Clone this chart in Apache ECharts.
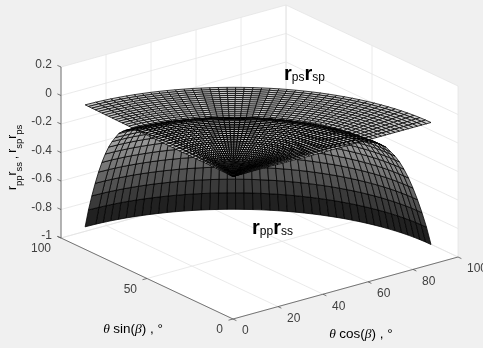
<!DOCTYPE html>
<html><head><meta charset="utf-8">
<style>html,body{margin:0;padding:0;background:#f0f0f0}#c{width:483px;height:348px}</style>
<script src="https://cdn.jsdelivr.net/npm/echarts@6/dist/echarts.min.js"></script>
</head><body><div id="c"></div>
<script>
// ---- values ----
const thetaDeg = [0,2,4,6,8,10,12,14,16,18,20,22,24,26,28,30,32,34,36,38,40,42,44,46,48,50,52,54,56,58,60,62,64,66,68,70,72,74,76,78,80,82,84,86,88];
const betaDeg = [0,2,4,6,8,10,12,14,16,18,20,22,24,26,28,30,32,34,36,38,40,42,44,46,48,50,52,54,56,58,60,62,64,66,68,70,72,74,76,78,80,82,84,86,89];
const lowerZ = [0.02,0.02,0.02,0.02,0.02,0.02,0.02,0.02,0.02,0.02,0.02,0.02,0.02,0.02,0.02,0.02,0.018,0.018,0.018,0.016,0.016,0.015,0.014,0.012,0.01,0.008,0.006,0.004,0,-0.008,-0.018,-0.03,-0.045,-0.065,-0.09,-0.13,-0.17,-0.22,-0.28,-0.35,-0.43,-0.52,-0.62,-0.73,-0.86];
const upperZ = [0,0,0,0,0,0,0,0,0,0,-0.002,-0.002,-0.002,-0.002,-0.002,-0.004,-0.004,-0.004,-0.004,-0.004,-0.004,-0.004,-0.004,-0.004,-0.004,-0.004,-0.004,-0.004,-0.004,-0.004,-0.004,-0.004,-0.004,-0.004,-0.004,-0.004,-0.004,-0.004,-0.004,-0.004,-0.004,-0.004,-0.004,-0.004,-0.004];
const xTicks = [0,20,40,60,80,100];
const yTicks = [0,50,100];
const zTicks = [-1,-0.8,-0.6,-0.4,-0.2,0,0.2];
const zTickLabels = ['-1','-0.8','-0.6','-0.4','-0.2','0','0.2'];
const crossLayer = 64; // theta where the two surfaces cross
const colorLow = -0.95, colorHigh = 0.25;

// ---- view of the 3-D box ----
const view = {ox:233, oy:319, xu:2.25, xv:-0.62, yu:-1.72, yv:-0.81, zv:-142.5, zBase:-1};
function project(x,y,z){
  return [view.ox + view.xu*x + view.yu*y, view.oy + view.xv*x + view.yv*y + view.zv*(z-view.zBase)];
}
function depth(x,y,z){ return 1.72*x + 2.25*y - 141*z; }
const deg = Math.PI/180;
function world(table,i,j){ const t=thetaDeg[i], b=betaDeg[j]*deg; return [t*Math.cos(b), t*Math.sin(b), table[i]]; }
function gray(z){ const g=Math.max(0,Math.min(1,(z-colorLow)/(colorHigh-colorLow))); const v=Math.round(g*255); return 'rgb('+v+','+v+','+v+')'; }

function cells(table,from,to){
  const out=[];
  for(let i=from;i<to;i++) for(let j=0;j<betaDeg.length-1;j++){
    const a=world(table,i,j), c=world(table,i+1,j+1);
    out.push({i,j,d:depth((a[0]+c[0])/2,(a[1]+c[1])/2,(a[2]+c[2])/2)});
  }
  out.sort((p,q)=>q.d-p.d);
  return out;
}
const crossIdx = thetaDeg.indexOf(crossLayer);
const tables=[lowerZ,upperZ];
const meshData=[];
cells(lowerZ,crossIdx,thetaDeg.length-1).forEach(c=>meshData.push([0,c.i,c.j,0]));
cells(upperZ,0,thetaDeg.length-1).forEach(c=>meshData.push([1,c.i,c.j,1]));
cells(lowerZ,0,crossIdx).forEach(c=>meshData.push([0,c.i,c.j,2]));
const layerStroke=[0.75,0.75,1.0];

function renderMesh(params,api){
  const t=tables[api.value(0)], i=api.value(1), j=api.value(2), layer=api.value(3);
  const corners=[world(t,i,j),world(t,i+1,j),world(t,i+1,j+1),world(t,i,j+1)];
  const pts=corners.map(w=>api.coord(project(w[0],w[1],w[2])));
  return {type:'polygon',shape:{points:pts},style:{fill:gray((t[i]+t[i+1])/2),stroke:'#000',lineWidth:layerStroke[layer]},silent:true};
}

// box faces
const xMax=xTicks[xTicks.length-1], yMax=yTicks[yTicks.length-1], zMin=zTicks[0], zMax=zTicks[zTicks.length-1];
const faces=[
 [[0,yMax,zMin],[xMax,yMax,zMin],[xMax,yMax,zMax],[0,yMax,zMax]],
 [[xMax,yMax,zMin],[xMax,0,zMin],[xMax,0,zMax],[xMax,yMax,zMax]],
 [[0,0,zMin],[xMax,0,zMin],[xMax,yMax,zMin],[0,yMax,zMin]]
];
const gridSegs=[];
xTicks.forEach(x=>{gridSegs.push([[x,0,zMin],[x,yMax,zMin]]);gridSegs.push([[x,yMax,zMin],[x,yMax,zMax]]);});
yTicks.forEach(y=>{gridSegs.push([[0,y,zMin],[xMax,y,zMin]]);gridSegs.push([[xMax,y,zMin],[xMax,y,zMax]]);});
zTicks.forEach(z=>{gridSegs.push([[0,yMax,z],[xMax,yMax,z]]);gridSegs.push([[xMax,yMax,z],[xMax,0,z]]);});
const axisSegs=[[[0,0,zMin],[xMax,0,zMin]],[[0,0,zMin],[0,yMax,zMin]],[[0,yMax,zMin],[0,yMax,zMax]]];

function P(api,w){return api.coord(project(w[0],w[1],w[2]));}
const txt='#404040', sans='"Liberation Sans",Arial,sans-serif';

const labels=[];
xTicks.forEach(x=>labels.push({w:[x,0,zMin],t:String(x),dx:9,dy:12,align:'left'}));
yTicks.forEach(y=>labels.push({w:[0,y,zMin],t:String(y),dx:-10,dy:11,align:'right'}));
zTicks.forEach((z,k)=>labels.push({w:[0,yMax,z],t:zTickLabels[k],dx:-9,dy:-2,align:'right'}));

const richBase={
  r:{fontSize:20,fontFamily:sans,fontWeight:'bold',color:'#222',verticalAlign:'bottom',lineHeight:22},
  s:{fontSize:12,fontFamily:sans,color:'#333',verticalAlign:'bottom',lineHeight:18}
};
const richAxis={
  r:{fontSize:12,fontFamily:sans,color:txt,verticalAlign:'bottom',lineHeight:13,padding:[0,0,5,0]},
  s:{fontSize:9.5,fontFamily:sans,color:txt,verticalAlign:'bottom',lineHeight:11},
  c:{fontSize:11,fontFamily:sans,color:txt,verticalAlign:'bottom',lineHeight:13,padding:[0,0,5,0]}
};
const richTitle={
  g:{fontSize:13.5,fontFamily:'"Liberation Serif",serif',fontStyle:'italic',color:txt},
  t:{fontSize:13.5,fontFamily:sans,color:txt}
};
const annotations=[
 {px:[284,84],text:'{r|r}{s|ps}{r|r}{s|sp}',rich:richBase,align:'left',rot:0},
 {px:[252,238],text:'{r|r}{s|pp}{r|r}{s|ss}',rich:richBase,align:'left',rot:0},
 {px:[24,190],text:'{r|r}{s|pp}{r|r}{s|ss}{c| , }{r|r}{s|sp}{r|r}{s|ps}',rich:richAxis,align:'left',rot:Math.PI/2},
 {px:[361,341],text:'{g|θ} {t|cos(}{g|β}{t|) , °}',rich:richTitle,align:'center',rot:0},
 {px:[133,336],text:'{g|θ} {t|sin(}{g|β}{t|) , °}',rich:richTitle,align:'center',rot:0}
];

const option={
  animation:false,
  backgroundColor:'#f0f0f0',
  grid:{left:0,top:0,width:483,height:348},
  xAxis:{type:'value',min:0,max:483,show:false},
  yAxis:{type:'value',min:0,max:348,inverse:true,show:false},
  series:[
   {type:'custom',coordinateSystem:'cartesian2d',silent:true,z:1,clip:false,data:faces.map((f,i)=>[i]),
    renderItem(p,api){const f=faces[api.value(0)];return {type:'polygon',shape:{points:f.map(w=>P(api,w))},style:{fill:'#fff'}};}},
   {type:'custom',coordinateSystem:'cartesian2d',silent:true,z:2,clip:false,data:gridSegs.map((f,i)=>[i]),
    renderItem(p,api){const s=gridSegs[api.value(0)],a=P(api,s[0]),b=P(api,s[1]);
      return {type:'line',shape:{x1:a[0],y1:a[1],x2:b[0],y2:b[1]},style:{stroke:'#e4e4e4',lineWidth:0.8}};}},
   {type:'custom',coordinateSystem:'cartesian2d',silent:true,z:3,clip:false,data:axisSegs.map((f,i)=>[i]),
    renderItem(p,api){const s=axisSegs[api.value(0)],a=P(api,s[0]),b=P(api,s[1]);
      return {type:'line',shape:{x1:a[0],y1:a[1],x2:b[0],y2:b[1]},style:{stroke:'#555',lineWidth:0.8}};}},
   {type:'custom',coordinateSystem:'cartesian2d',silent:true,z:3,clip:false,data:labels.map((l,i)=>[i]),
    renderItem(p,api){const l=labels[api.value(0)],a=P(api,l.w);
      const dir= l.align==='left'?[3.4,1.6]:(l.w[2]===zMin&&l.w[1]!==yMax?[-4.5,1.2]:[-3.6,-1.6]);
      return {type:'group',children:[
        {type:'line',shape:{x1:a[0],y1:a[1],x2:a[0]+dir[0],y2:a[1]+dir[1]},style:{stroke:'#555',lineWidth:0.8}},
        {type:'text',x:a[0]+l.dx,y:a[1]+l.dy,style:{text:l.t,fill:txt,font:'12px '+sans,textAlign:l.align,textVerticalAlign:'middle'}}
      ]};}},
   {type:'custom',coordinateSystem:'cartesian2d',silent:true,z:5,clip:false,progressive:0,data:meshData,renderItem:renderMesh},
   {type:'custom',coordinateSystem:'cartesian2d',silent:true,z:6,clip:false,data:annotations.map((a,i)=>[i]),
    renderItem(p,api){const a=annotations[api.value(0)],c=api.coord(a.px);
      return {type:'text',x:c[0],y:c[1],rotation:a.rot,style:{text:a.text,rich:a.rich,textAlign:a.align,textVerticalAlign:'bottom'}};}}
  ]
};
const chart=echarts.init(document.getElementById('c'),null,{renderer:'canvas'});
chart.setOption(option);
</script></body></html>
